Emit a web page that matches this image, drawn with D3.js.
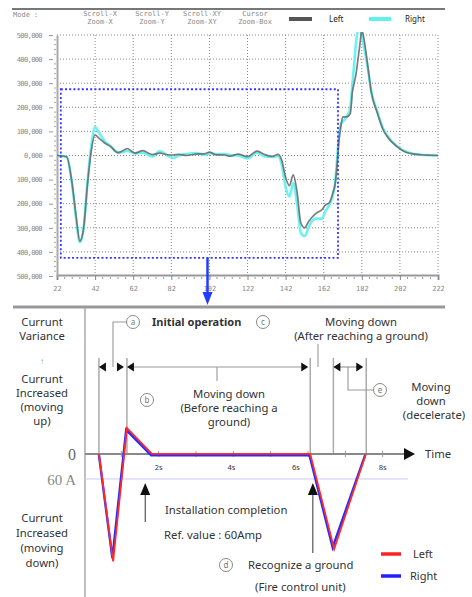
<!DOCTYPE html>
<html>
<head>
<meta charset="utf-8">
<script src="https://cdn.jsdelivr.net/npm/d3@7"></script>
<style>
  body { margin: 0; background: #fff; }
  svg { display: block; }
</style>
</head>
<body>
<svg id="chart"></svg>
<script>
// Upper panel: measured current (raw units) against sample index
const topX = [22, 27, 30, 32, 34, 36, 38, 40, 42, 44, 47, 50, 54, 57, 59, 61, 63, 67, 72, 76, 80, 83, 86, 90, 95, 100, 102, 105, 110, 113, 117, 122, 127, 131, 135, 138, 140, 142, 144, 146, 148, 150, 152, 154, 156, 158, 161, 163, 165, 167, 168, 169, 170, 171, 172, 174, 176, 177, 178, 179, 180, 181, 182, 183, 185, 187, 190, 193, 196, 200, 204, 208, 213, 218, 222];
const topLeft = [0, -5000, -120000, -250000, -355000, -300000, -120000, 20000, 85000, 72000, 52000, 38000, 12000, 22000, 29000, 18000, 10000, 20000, 4000, 10000, 3000, 2000, 5000, 0, 6000, 8000, 14000, 4000, 2000, -3000, 6000, -5000, 18000, 4000, -4000, 5000, -20000, -90000, -125000, -80000, -150000, -280000, -300000, -275000, -255000, -240000, -225000, -205000, -195000, -150000, -120000, -40000, 60000, 120000, 160000, 160000, 175000, 260000, 300000, 340000, 400000, 460000, 520000, 490000, 380000, 262000, 180000, 110000, 72000, 40000, 18000, 8000, 3000, 1000, 0];
const topRight = [0, -5000, -125000, -260000, -360000, -300000, -110000, 40000, 118000, 95000, 60000, 40000, 12000, 15000, 20000, 14000, 8000, 12000, -4000, 18000, 0, -10000, 0, 6000, 10000, 2000, 10000, 6000, 6000, 2000, 0, -12000, 12000, -4000, -6000, -2000, -40000, -130000, -170000, -115000, -200000, -320000, -335000, -300000, -270000, -262000, -262000, -230000, -205000, -160000, -110000, -20000, 80000, 130000, 140000, 160000, 200000, 290000, 380000, 470000, 520000, 520000, 500000, 460000, 370000, 265000, 185000, 115000, 75000, 42000, 20000, 8000, 3000, 1000, 0];
const topYTicks = [500000, 400000, 300000, 200000, 100000, 0, -100000, -200000, -300000, -400000, -500000];
const topYLabels = ['500,000', '400,000', '300,000', '200,000', '100,000', '0,000', '100,000', '200,000', '300,000', '400,000', '500,000'];
const topXTicks = [22, 42, 62, 82, 102, 122, 142, 162, 182, 202, 222];
const zoomBox = { x0: 24, x1: 169.5, y0: -425000, y1: 275000 };
const modeButtons = [['Scroll-X', 'Zoom-X'], ['Scroll-Y', 'Zoom-Y'], ['Scroll-XY', 'Zoom-XY'], ['Cursor', 'Zoom-Box']];

// Lower panel: schematic current variance (A) against time (s)
const leftT = [0.4, 0.78, 1.15, 1.82, 6.06, 6.7, 7.55];
const leftA = [0, -258, 62, 0, 0, -228, 0];
const rightT = [0.4, 0.76, 1.13, 1.8, 6.04, 6.66, 7.53];
const rightA = [-2, -250, 58, -3, -3, -224, -3];
const timeTicks = [1, 2, 3, 4, 5, 6, 7, 8];
const timeLabels = ['2s', '4s', '6s', '8s'];
const phaseTimes = [0.4, 1.15, 6.06, 6.68, 7.56];
const refCurrent = -60;

const W = 472, H = 597;
const svg = d3.select('#chart').attr('width', W).attr('height', H);
svg.append('rect').attr('width', W).attr('height', H).attr('fill', '#fff');

// ---------- upper panel ----------
const x1 = d3.scaleLinear().domain([22, 222]).range([57, 438]);
const y1 = d3.scaleLinear().domain([-500000, 500000]).range([276, 35]);

svg.append('line').attr('x1', 12).attr('x2', 445).attr('y1', 9).attr('y2', 9)
  .attr('stroke', '#777').attr('stroke-width', 2);

const head = svg.append('g').attr('font-family', 'DejaVu Sans Mono, monospace')
  .attr('font-size', 7).attr('fill', '#888');
head.append('text').attr('x', 13).attr('y', 17).text('Mode :');
const btnX = [100, 152, 202, 255];
modeButtons.forEach((b, i) => {
  head.append('text').attr('x', btnX[i]).attr('y', 16).attr('text-anchor', 'middle').text(b[0]);
  head.append('text').attr('x', btnX[i]).attr('y', 24).attr('text-anchor', 'middle').text(b[1]);
});

const topLegend = svg.append('g').attr('font-family', 'Noto Sans, sans-serif')
  .attr('font-size', 8).attr('fill', '#222');
topLegend.append('line').attr('x1', 289).attr('x2', 312).attr('y1', 19).attr('y2', 19)
  .attr('stroke', '#555').attr('stroke-width', 4);
topLegend.append('text').attr('x', 329).attr('y', 22).text('Left');
topLegend.append('line').attr('x1', 369).attr('x2', 391).attr('y1', 19).attr('y2', 19)
  .attr('stroke', '#5ff0f0').attr('stroke-width', 4);
topLegend.append('text').attr('x', 405).attr('y', 22).text('Right');

// grid
const grid = svg.append('g').attr('stroke', '#888').attr('stroke-width', 1)
  .attr('stroke-dasharray', '1,2');
grid.selectAll('.hg').data(topYTicks.slice(0, -1)).enter().append('line')
  .attr('x1', x1(22)).attr('x2', x1(222))
  .attr('y1', d => y1(d)).attr('y2', d => y1(d));
grid.selectAll('.vg').data(topXTicks.slice(1)).enter().append('line')
  .attr('x1', d => x1(d)).attr('x2', d => x1(d))
  .attr('y1', y1(500000)).attr('y2', y1(-500000));

// axes
const xAxis = d3.axisBottom(x1).tickValues(topXTicks).tickSize(5).tickPadding(6)
  .tickFormat(d => d);
const gx = svg.append('g').attr('transform', `translate(0,${y1(-500000) - 1})`).call(xAxis);
gx.select('.domain').attr('stroke', '#999').attr('stroke-width', 2);
gx.selectAll('.tick line').attr('stroke', '#888');
gx.selectAll('text').attr('font-family', 'DejaVu Sans Mono, monospace').attr('font-size', 7).attr('fill', '#888');
gx.append('g').selectAll('line').data(d3.range(22, 223, 4).filter(d => (d - 22) % 20 !== 0))
  .enter().append('line')
  .attr('x1', d => x1(d)).attr('x2', d => x1(d)).attr('y1', 2).attr('y2', 4)
  .attr('stroke', '#999');

const yAxis = d3.axisLeft(y1).tickValues(topYTicks).tickSize(0).tickPadding(15)
  .tickFormat((d, i) => topYLabels[i]);
const gy = svg.append('g').attr('transform', `translate(${x1(22)},0)`).call(yAxis);
gy.select('.domain').attr('stroke', '#aaa').attr('stroke-width', 2);
gy.selectAll('text').attr('font-family', 'DejaVu Sans Mono, monospace').attr('font-size', 7)
  .attr('fill', '#888').attr('letter-spacing', -0.6);
gy.selectAll('.tick').append('line').attr('x1', -8).attr('x2', -4).attr('stroke', '#999');
gy.append('g').selectAll('line').data(d3.range(-500000, 500001, 20000).filter(d => d % 100000 !== 0))
  .enter().append('line')
  .attr('x1', -3).attr('x2', -1).attr('y1', d => y1(d)).attr('y2', d => y1(d))
  .attr('stroke', '#aaa');

// curves
svg.append('clipPath').attr('id', 'plotClip').append('rect')
  .attr('x', x1(22)).attr('y', y1(500000) - 3).attr('width', x1(222) - x1(22))
  .attr('height', y1(-500000) - y1(500000) + 3);
const topLine = d3.line().x((d, i) => x1(topX[i])).y(d => y1(d)).curve(d3.curveMonotoneX);
const curves = svg.append('g').attr('clip-path', 'url(#plotClip)').attr('fill', 'none');
curves.append('path').attr('d', topLine(topRight)).attr('stroke', '#6cf2f2').attr('stroke-width', 2.6);
curves.append('path').attr('d', topLine(topLeft)).attr('stroke', '#666').attr('stroke-width', 1.7)
  .attr('stroke-opacity', 0.85);

// zoom box and arrow to lower panel
svg.append('rect')
  .attr('x', x1(zoomBox.x0)).attr('y', y1(zoomBox.y1))
  .attr('width', x1(zoomBox.x1) - x1(zoomBox.x0)).attr('height', y1(zoomBox.y0) - y1(zoomBox.y1))
  .attr('fill', 'none').attr('stroke', '#3535ff').attr('stroke-width', 1.8)
  .attr('stroke-dasharray', '2,2.2');
const ax = x1(101);
svg.append('line').attr('x1', ax).attr('x2', ax).attr('y1', y1(zoomBox.y0)).attr('y2', 294)
  .attr('stroke', '#1f3cff').attr('stroke-width', 2.5);
svg.append('path').attr('d', `M${ax - 5},292 L${ax + 5},292 L${ax},305 Z`).attr('fill', '#1f3cff');

svg.append('line').attr('x1', 13).attr('x2', 445).attr('y1', 307).attr('y2', 307)
  .attr('stroke', '#999').attr('stroke-width', 3);

// ---------- lower panel ----------
const t = d3.scaleLinear().domain([0, 9]).range([84, 420]);
const a = d3.scaleLinear().domain([-270, 70]).range([566.5, 424.8]);
const axisY = a(0);

svg.append('line').attr('x1', 85).attr('x2', 85).attr('y1', 308).attr('y2', 597)
  .attr('stroke', '#aaa').attr('stroke-width', 1.5);

// reference current line
svg.append('line').attr('x1', 85).attr('x2', 408).attr('y1', a(refCurrent)).attr('y2', a(refCurrent))
  .attr('stroke', '#c9c9ff').attr('stroke-width', 1);

// phase boundaries
svg.append('g').selectAll('line').data(phaseTimes).enter().append('line')
  .attr('x1', d => t(d)).attr('x2', d => t(d)).attr('y1', 358).attr('y2', axisY)
  .attr('stroke', '#aaa').attr('stroke-width', 1.5);

// time axis
svg.append('line').attr('x1', 85).attr('x2', 406).attr('y1', axisY).attr('y2', axisY)
  .attr('stroke', '#888').attr('stroke-width', 2);
svg.append('path').attr('d', `M404,${axisY - 6} L415,${axisY} L404,${axisY + 6} Z`).attr('fill', '#111');
svg.append('g').selectAll('line').data(timeTicks).enter().append('line')
  .attr('x1', d => t(d)).attr('x2', d => t(d)).attr('y1', axisY - 3).attr('y2', axisY + 3)
  .attr('stroke', '#999');
const labelShift = [0, -2, -12, 0];
svg.append('g').selectAll('text').data(timeLabels).enter().append('text')
  .attr('x', (d, i) => t(2 * (i + 1)) + labelShift[i]).attr('y', axisY + 16)
  .attr('text-anchor', 'middle').attr('font-family', 'Noto Sans, sans-serif')
  .attr('font-size', 7.5).attr('fill', '#333').text(d => d);

// series
const lowLine = d3.line().x(d => t(d[0])).y(d => a(d[1]));
svg.append('path').attr('d', lowLine(rightT.map((d, i) => [d, rightA[i]])))
  .attr('fill', 'none').attr('stroke', '#2a2aff').attr('stroke-width', 2.4);
svg.append('path').attr('d', lowLine(leftT.map((d, i) => [d, leftA[i]])))
  .attr('fill', 'none').attr('stroke', '#ff2a2a').attr('stroke-width', 1.8);

// dimension arrows
const dimY = 367;
const arrowL = x => `M${x},${dimY} L${x + 7},${dimY - 4.5} L${x + 7},${dimY + 4.5} Z`;
const arrowR = x => `M${x},${dimY} L${x - 7},${dimY - 4.5} L${x - 7},${dimY + 4.5} Z`;
const dims = svg.append('g');
dims.append('line').attr('x1', t(phaseTimes[1]) + 5).attr('x2', t(phaseTimes[2]) - 5)
  .attr('y1', dimY).attr('y2', dimY).attr('stroke', '#999').attr('stroke-width', 1.2);
dims.append('line').attr('x1', t(phaseTimes[3]) + 5).attr('x2', t(phaseTimes[4]) - 5)
  .attr('y1', dimY).attr('y2', dimY).attr('stroke', '#999').attr('stroke-width', 1.2);
[arrowL(t(phaseTimes[0])), arrowR(t(phaseTimes[1]) - 3), arrowL(t(phaseTimes[1])),
 arrowR(t(phaseTimes[2]) - 2), arrowL(t(phaseTimes[3])), arrowR(t(phaseTimes[4]) - 3)]
  .forEach(p => dims.append('path').attr('d', p).attr('fill', '#111'));

// leader lines
const lead = svg.append('g').attr('fill', 'none').attr('stroke', '#999').attr('stroke-width', 1.1);
lead.append('path').attr('d', `M127,322 L113,322 L113,${dimY}`);
lead.append('path').attr('d', `M217,${dimY} L217,381`);
lead.append('path').attr('d', `M318,344 L318,${dimY}`);
lead.append('path').attr('d', `M348,${dimY} L348,390 L373,390`);

// circled letters
const circles = [['a', 133, 322], ['c', 263, 322], ['b', 147, 400], ['e', 380, 390], ['d', 226, 565]];
const cg = svg.append('g');
circles.forEach(c => {
  cg.append('circle').attr('cx', c[1]).attr('cy', c[2]).attr('r', 6.5)
    .attr('fill', '#fff').attr('stroke', '#888').attr('stroke-width', 1);
  cg.append('text').attr('x', c[1]).attr('y', c[2] + 3).attr('text-anchor', 'middle')
    .attr('font-family', 'Noto Sans, sans-serif').attr('font-size', 8).attr('fill', '#777').text(c[0]);
});

// upward marker arrows
const markers = [[1.64, 522], [6.13, 553]];
markers.forEach(m => {
  const mx = t(m[0]);
  svg.append('line').attr('x1', mx).attr('x2', mx).attr('y1', 494).attr('y2', m[1])
    .attr('stroke', '#333').attr('stroke-width', 1);
  svg.append('path').attr('d', `M${mx},483 L${mx + 5},495 L${mx - 5},495 Z`).attr('fill', '#111');
});

// text blocks
const txt = svg.append('g').attr('font-family', 'Noto Sans, sans-serif').attr('font-size', 11.3)
  .attr('fill', '#333');
const put = (s, x, y, anchor, extra) => {
  const el = txt.append('text').attr('x', x).attr('y', y).attr('text-anchor', anchor || 'start').text(s);
  if (extra) extra(el);
  return el;
};
['Currunt', 'Variance'].forEach((s, i) => put(s, 42, 326 + i * 14, 'middle'));
put('\u2191', 42, 364, 'middle', e => e.attr('fill', '#999').attr('font-size', 8));
['Currunt', 'Increased', '(moving', 'up)'].forEach((s, i) => put(s, 42, 383 + i * 14, 'middle'));
['Currunt', 'Increased', '(moving', 'down)'].forEach((s, i) => put(s, 42, 522 + i * 15, 'middle'));

put('Initial operation', 152, 326, 'start', e => e.attr('font-weight', 'bold').attr('font-size', 11));
put('Moving down', 361, 326, 'middle');
put('(After reaching a ground)', 361, 340, 'middle');
put('Moving down', 229, 398, 'middle');
put('(Before reaching a', 229, 412, 'middle');
put('ground)', 229, 426, 'middle');
put('Moving', 431, 391, 'middle');
put('down', 431, 405, 'middle');
put('(decelerate)', 434, 419, 'middle');
put('Time', 425, 458, 'start');
put('Installation completion', 165, 514, 'start');
put('Ref. value : 60Amp', 164, 539, 'start');
put('Recognize a ground', 248, 569, 'start');
put('(Fire control unit)', 255, 591, 'start');

svg.append('text').attr('x', 72).attr('y', 460).attr('text-anchor', 'middle')
  .attr('font-family', 'Liberation Serif, serif').attr('font-size', 16).attr('fill', '#666').text('0');
svg.append('text').attr('x', 76).attr('y', a(refCurrent) + 6).attr('text-anchor', 'end')
  .attr('font-family', 'Liberation Serif, serif').attr('font-size', 15).attr('fill', '#888').text('60 A');

// lower legend
const lg = svg.append('g');
lg.append('line').attr('x1', 381).attr('x2', 401).attr('y1', 554).attr('y2', 554)
  .attr('stroke', '#ff2020').attr('stroke-width', 3.5);
lg.append('text').attr('x', 413).attr('y', 558).attr('font-family', 'Noto Sans, sans-serif')
  .attr('font-size', 11).attr('fill', '#333').text('Left');
lg.append('line').attr('x1', 381).attr('x2', 401).attr('y1', 576).attr('y2', 576)
  .attr('stroke', '#2020ff').attr('stroke-width', 3.5);
lg.append('text').attr('x', 410).attr('y', 580).attr('font-family', 'Noto Sans, sans-serif')
  .attr('font-size', 11).attr('fill', '#333').text('Right');
</script>
</body>
</html>
